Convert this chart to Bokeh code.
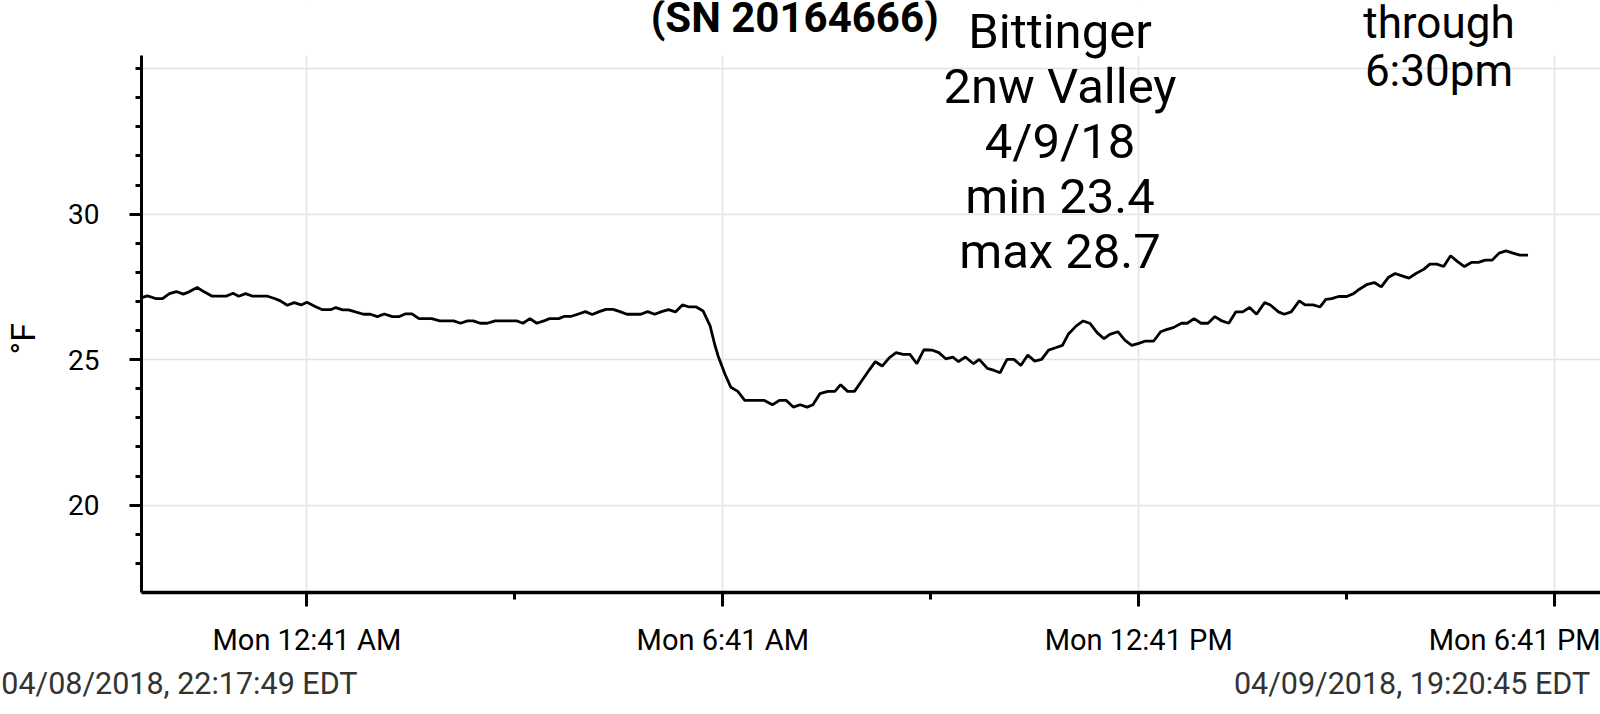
import pandas as pd
from bokeh.plotting import figure
from bokeh.models import Range1d, FixedTicker, Label, BoxAnnotation, DatetimeAxis
from bokeh.embed import file_html
from bokeh.resources import INLINE

# ---------------- data ----------------
start_time = "2018-04-08 22:17:49"
end_time = "2018-04-09 19:20:45"

times = [
    "22:18", "22:23", "22:30", "22:36", "22:42", "22:48", "22:54", "22:59", "23:06", "23:12",
    "23:19", "23:31", "23:37", "23:42", "23:48", "23:54", "00:07", "00:13", "00:18", "00:24",
    "00:30", "00:36", "00:41", "00:49", "00:54", "01:02", "01:06", "01:12", "01:17", "01:23",
    "01:30", "01:36", "01:42", "01:48", "01:55", "02:01", "02:06", "02:12", "02:18", "02:29",
    "02:36", "02:48", "02:54", "03:00", "03:05", "03:11", "03:17", "03:24", "03:43", "03:48",
    "03:54", "04:00", "04:06", "04:11", "04:19", "04:24", "04:30", "04:36", "04:42", "04:48",
    "04:54", "05:00", "05:06", "05:12", "05:18", "05:30", "05:36", "05:42", "05:48", "05:54",
    "06:00", "06:06", "06:12", "06:18", "06:24", "06:30", "06:34", "06:37", "06:43", "06:48",
    "06:54", "07:00", "07:17", "07:24", "07:30", "07:36", "07:42", "07:48", "07:54", "07:59",
    "08:05", "08:12", "08:18", "08:23", "08:29", "08:35", "08:41", "08:48", "08:53", "08:59",
    "09:05", "09:11", "09:17", "09:23", "09:29", "09:35", "09:42", "09:48", "09:54", "10:00",
    "10:05", "10:11", "10:18", "10:23", "10:30", "10:36", "10:41", "10:47", "10:53", "10:59",
    "11:05", "11:11", "11:17", "11:23", "11:29", "11:35", "11:40", "11:47", "11:53", "11:59",
    "12:05", "12:11", "12:16", "12:23", "12:29", "12:35", "12:41", "12:47", "12:54", "13:00",
    "13:05", "13:11", "13:18", "13:23", "13:29", "13:35", "13:41", "13:47", "13:53", "13:59",
    "14:05", "14:11", "14:17", "14:23", "14:30", "14:35", "14:42", "14:47", "14:53", "15:00",
    "15:05", "15:12", "15:18", "15:23", "15:28", "15:34", "15:41", "15:47", "15:52", "15:59",
    "16:05", "16:11", "16:17", "16:23", "16:29", "16:35", "16:41", "16:48", "16:53", "16:59",
    "17:05", "17:11", "17:17", "17:23", "17:29", "17:35", "17:41", "17:47", "17:53", "17:59",
    "18:05", "18:11", "18:18",
]

temps_f = [
    27.13, 27.19, 27.10, 27.10, 27.27, 27.34, 27.25, 27.33, 27.48, 27.33,
    27.18, 27.18, 27.28, 27.18, 27.27, 27.18, 27.18, 27.10, 27.02, 26.87,
    26.96, 26.88, 26.97, 26.81, 26.72, 26.72, 26.79, 26.71, 26.71, 26.64,
    26.56, 26.56, 26.48, 26.57, 26.48, 26.48, 26.57, 26.57, 26.41, 26.41,
    26.33, 26.33, 26.25, 26.33, 26.33, 26.25, 26.25, 26.33, 26.33, 26.25,
    26.41, 26.25, 26.33, 26.41, 26.41, 26.49, 26.49, 26.57, 26.65, 26.55,
    26.65, 26.73, 26.73, 26.65, 26.56, 26.56, 26.65, 26.56, 26.65, 26.72,
    26.64, 26.88, 26.81, 26.81, 26.67, 26.16, 25.52, 25.12, 24.49, 24.05,
    23.91, 23.60, 23.60, 23.45, 23.60, 23.60, 23.37, 23.45, 23.37, 23.45,
    23.83, 23.91, 23.91, 24.14, 23.91, 23.91, 24.26, 24.66, 24.93, 24.78,
    25.06, 25.24, 25.18, 25.18, 24.86, 25.34, 25.33, 25.24, 25.03, 25.09,
    24.93, 25.09, 24.86, 25.01, 24.70, 24.63, 24.55, 25.01, 25.01, 24.80,
    25.16, 24.95, 25.01, 25.33, 25.41, 25.49, 25.87, 26.16, 26.33, 26.24,
    25.93, 25.72, 25.87, 25.96, 25.67, 25.49, 25.56, 25.64, 25.64, 25.96,
    26.03, 26.10, 26.25, 26.25, 26.41, 26.25, 26.25, 26.48, 26.33, 26.25,
    26.64, 26.64, 26.79, 26.56, 26.96, 26.88, 26.64, 26.56, 26.64, 27.02,
    26.88, 26.88, 26.81, 27.07, 27.10, 27.17, 27.17, 27.27, 27.42, 27.59,
    27.65, 27.50, 27.82, 27.96, 27.88, 27.80, 27.96, 28.11, 28.28, 28.28,
    28.20, 28.57, 28.37, 28.20, 28.34, 28.34, 28.42, 28.42, 28.66, 28.74,
    28.66, 28.59, 28.59,
]

x_major_times = ["00:41", "06:41", "12:41", "18:41"]
x_major_labels = ["Mon 12:41 AM", "Mon 6:41 AM", "Mon 12:41 PM", "Mon 6:41 PM"]
x_minor_times = ["03:41", "09:41", "15:41"]

y_major_ticks = [20, 25, 30]
y_minor_ticks = [18, 19, 21, 22, 23, 24, 26, 27, 28, 29, 31, 32, 33, 34, 35]
y_grid_ticks = [20, 25, 30, 35]
y_start, y_top = 17.0, 35.45   # value range of the plotted area

y_axis_label = "°F"
title_serial = "(SN 20164666)"
note_lines = ["Bittinger", "2nw Valley", "4/9/18", "min 23.4", "max 28.7"]
through_lines = ["through", "6:30pm"]
start_label = "04/08/2018, 22:17:49 EDT"
end_label = "04/09/2018, 19:20:45 EDT"


def to_ts(hhmm):
    day = "2018-04-08" if int(hhmm[:2]) >= 22 else "2018-04-09"
    return pd.Timestamp(f"{day} {hhmm}")


def ms(ts):
    return ts.value / 1e6


xs = [to_ts(t) for t in times]
x_major = [ms(to_ts(t)) for t in x_major_times]
x_minor = [ms(to_ts(t)) for t in x_minor_times]
t0 = pd.Timestamp(start_time)
t1 = pd.Timestamp(end_time)

# ---------------- layout (canvas pixels) ----------------
W, H = 1600, 714
FL, FR = 137, 1600       # frame left / right
PT, FB = 55, 592         # top of the plotted area / frame bottom
ppu = (FB - PT) / (y_top - y_start)
y_end = y_top + PT / ppu  # frame reaches the canvas top so the notes can live above the plot

FONT = "Roboto"

p = figure(
    width=W, height=H,
    x_axis_type="datetime",
    x_range=Range1d(t0, t1),
    y_range=Range1d(y_start, y_end),
    output_backend="svg",
    toolbar_location=None,
    min_border_left=FL, min_border_right=W - FR,
    min_border_top=0, min_border_bottom=H - FB,
)
p.title.visible = False
p.outline_line_color = None
p.background_fill_color = "white"
p.border_fill_color = "white"

p.line(xs, temps_f, line_color="black", line_width=2.8)

# x axis
xa = p.xaxis[0]
xa.ticker = FixedTicker(ticks=x_major, minor_ticks=x_minor)
xa.major_label_overrides = {v: l for v, l in zip(x_major, x_major_labels)}
xa.axis_line_width = 3.5
xa.axis_line_color = "black"
xa.major_tick_line_width = 3
xa.minor_tick_line_width = 3
xa.major_tick_out = 14
xa.major_tick_in = 0
xa.minor_tick_out = 7
xa.minor_tick_in = 0
xa.major_label_text_font = FONT
xa.major_label_text_font_size = "29px"
xa.major_label_text_color = "black"
xa.major_label_standoff = 16

# y axis (line stops at the top of the plotted area)
ya = p.yaxis[0]
ya.bounds = (y_start, y_top)
ya.ticker = FixedTicker(ticks=y_major_ticks, minor_ticks=y_minor_ticks)
ya.axis_line_width = 3
ya.axis_line_color = "black"
ya.major_tick_line_width = 3
ya.minor_tick_line_width = 3
ya.major_tick_out = 12
ya.major_tick_in = 0
ya.minor_tick_out = 6
ya.minor_tick_in = 0
ya.major_label_text_font = FONT
ya.major_label_text_font_size = "28px"
ya.major_label_text_color = "black"
ya.major_label_standoff = 30
# trailing no-break spaces keep the label centred on the plotted area, not the whole frame
ya.axis_label = y_axis_label + "\u00a0" * 10
ya.axis_label_text_font = FONT
ya.axis_label_text_font_size = "34px"
ya.axis_label_text_font_style = "normal"
ya.axis_label_text_color = "black"
ya.axis_label_standoff = 22

# grids
p.xgrid.ticker = FixedTicker(ticks=x_major)
p.ygrid.ticker = FixedTicker(ticks=y_grid_ticks)
for g in (p.xgrid[0], p.ygrid[0]):
    g.grid_line_color = "#e3e3e3"
    g.grid_line_width = 1.5

# blank strip above the plotted area (hides grid lines there)
p.add_layout(BoxAnnotation(bottom=y_top, fill_color="white", fill_alpha=1.0,
                           line_alpha=0, level="glyph"))


# helpers: canvas px -> data coordinates
def dx(px):
    return ms(t0) + (ms(t1) - ms(t0)) * (px - FL) / (FR - FL)


def dy(py):
    return y_start + (FB - py) / FB * (y_end - y_start)


BASE_SHIFT = 14.5  # rendered baseline sits this far below the requested y


def add_text(txt, px, py, size, align="center", style="normal", color="black"):
    p.add_layout(Label(
        x=dx(px), y=dy(py - BASE_SHIFT), text=txt,
        text_font=FONT, text_font_size=f"{size}px", text_font_style=style,
        text_color=color, text_align=align, text_baseline="alphabetic",
    ))


add_text(title_serial, 792, 31, 42, style="bold")
for i, line in enumerate(note_lines):
    add_text(line, 1058, 45 + 55 * i, 49)
for i, line in enumerate(through_lines):
    add_text(line, 1438, 37 + 48 * i, 44)

# start / end time stamps under the time axis
stamp_centers = [dx(175), dx(1411)]
stamp_axis = DatetimeAxis(ticker=FixedTicker(ticks=stamp_centers, minor_ticks=[]))
stamp_axis.major_label_overrides = {stamp_centers[0]: start_label, stamp_centers[1]: end_label}
stamp_axis.axis_line_color = None
stamp_axis.major_tick_line_color = None
stamp_axis.minor_tick_line_color = None
stamp_axis.major_tick_out = 0
stamp_axis.major_tick_in = 0
stamp_axis.minor_tick_out = 0
stamp_axis.minor_tick_in = 0
stamp_axis.major_label_text_font = FONT
stamp_axis.major_label_text_font_size = "30.5px"
stamp_axis.major_label_text_color = "#333333"
stamp_axis.major_label_standoff = 6
p.add_layout(stamp_axis, "below")

open("out.html", "w").write(file_html(p, INLINE))
